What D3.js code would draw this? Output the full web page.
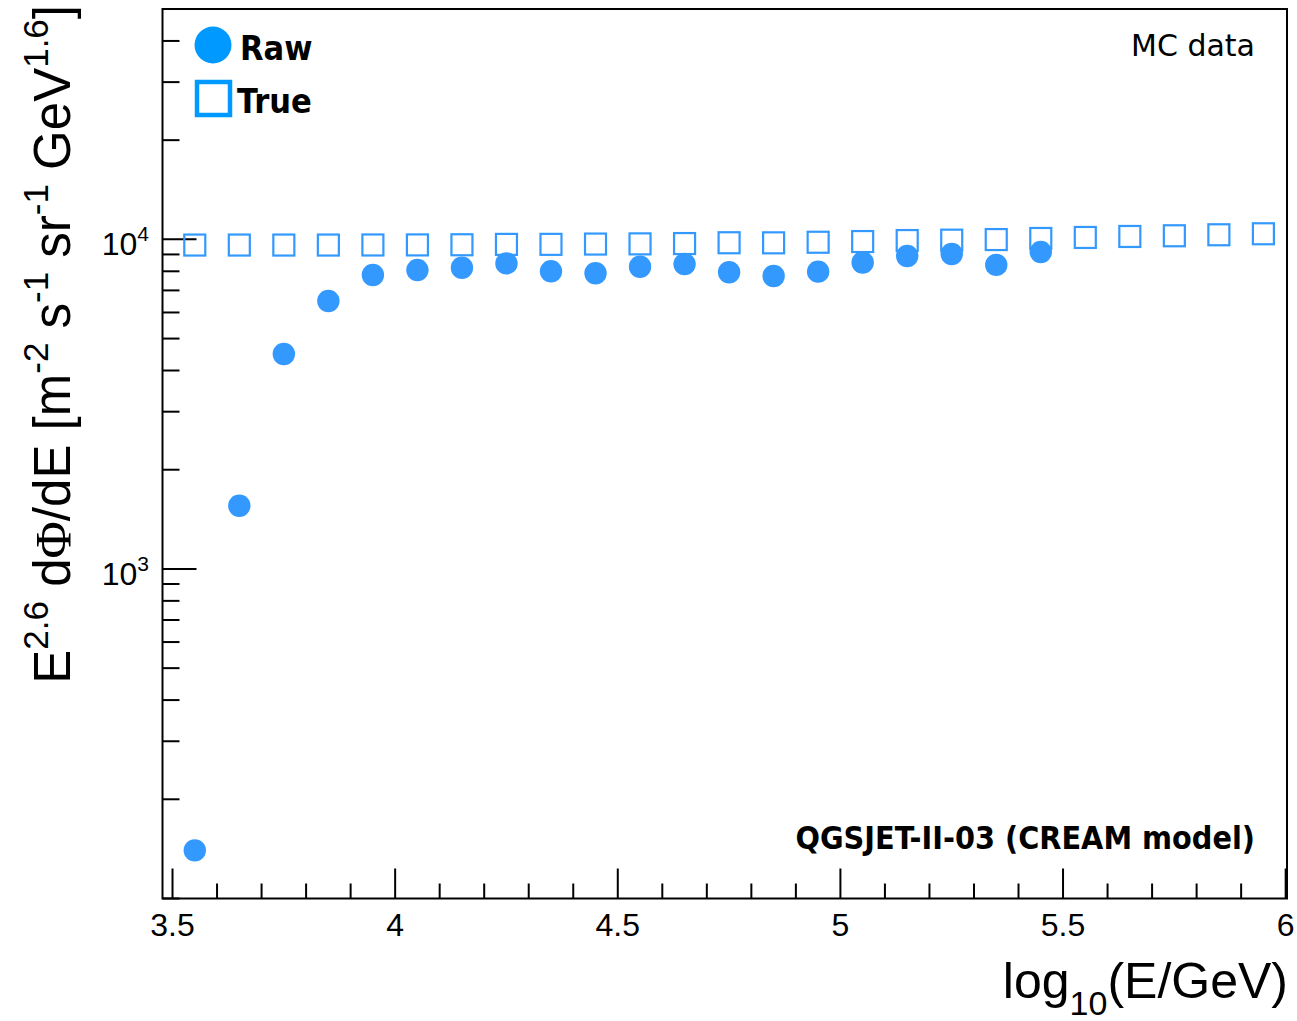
<!DOCTYPE html>
<html>
<head>
<meta charset="utf-8">
<script src="https://cdn.jsdelivr.net/npm/d3@7"></script>
<style>
  body { margin: 0; background: #fff; }
  svg { display: block; }
</style>
</head>
<body>
<div class="canvas"></div>
<script>
// data
const binCentres = [3.55, 3.65, 3.75, 3.85, 3.95, 4.05, 4.15, 4.25, 4.35, 4.45, 4.55, 4.65,
  4.75, 4.85, 4.95, 5.05, 5.15, 5.25, 5.35, 5.45, 5.55, 5.65, 5.75, 5.85, 5.95];
const rawFlux = [140, 1555, 4490, 6500, 7795, 8070, 8200, 8455, 8000, 7890, 8260, 8415,
  7945, 7740, 7980, 8505, 8900, 9025, 8365, 9150];
const trueFlux = [9610, 9610, 9610, 9610, 9615, 9620, 9630, 9655, 9657, 9677, 9690, 9711,
  9766, 9760, 9800, 9848, 9917, 9944, 9986, 10062, 10133, 10204, 10254, 10326, 10398];
const xTickLabels = [3.5, 4, 4.5, 5, 5.5, 6];
const yDecades = [1000, 10000];

const W = 1297, H = 1021;
const frame = { left: 162.5, right: 1287, top: 9, bottom: 898.5 };
const markerColor = "#3399ff";
const legendColor = "#0099ff";

const svg = d3.select(".canvas").append("svg").attr("width", W).attr("height", H);

const x = d3.scaleLinear().domain([3.4775, 6.003]).range([frame.left, frame.right]);
const y = d3.scaleLog().domain([100, 50000]).range([frame.bottom, frame.top]);

// frame
svg.append("rect")
  .attr("x", frame.left).attr("y", frame.top)
  .attr("width", frame.right - frame.left).attr("height", frame.bottom - frame.top)
  .attr("fill", "none").attr("stroke", "#000").attr("stroke-width", 2);

// x axis: major every 0.5, minor every 0.1
const xMinor = d3.range(35, 61).map((d) => d / 10);
svg.append("g").selectAll("line").data(xMinor).join("line")
  .attr("x1", (d) => x(d)).attr("x2", (d) => x(d))
  .attr("y1", frame.bottom)
  .attr("y2", (d) => (Math.round(d * 10) % 5 === 0 ? frame.bottom - 30 : frame.bottom - 15))
  .attr("stroke", "#000").attr("stroke-width", 2);

svg.append("g").selectAll("text").data(xTickLabels).join("text")
  .attr("x", (d) => x(d)).attr("y", 936)
  .attr("text-anchor", "middle")
  .attr("font-family", "Liberation Sans, Arial, sans-serif")
  .attr("font-size", 32)
  .text((d) => d);

// y axis: log ticks
const yMinor = [];
[100, 1000, 10000].forEach((dec) => {
  for (let k = 1; k <= 9; k++) {
    const v = dec * k;
    if (v >= 100 && v <= 50000) yMinor.push(v);
  }
});
svg.append("g").selectAll("line").data(yMinor).join("line")
  .attr("x1", frame.left)
  .attr("x2", (d) => (yDecades.includes(d) ? frame.left + 34 : frame.left + 17))
  .attr("y1", (d) => y(d)).attr("y2", (d) => y(d))
  .attr("stroke", "#000").attr("stroke-width", 2);

const yLab = svg.append("g").selectAll("text").data(yDecades).join("text")
  .attr("x", 149).attr("y", (d) => y(d) + 16)
  .attr("text-anchor", "end")
  .attr("font-family", "Liberation Sans, Arial, sans-serif")
  .attr("font-size", 32);
yLab.append("tspan").text("10");
yLab.append("tspan").attr("font-size", 21).attr("dy", -14).text((d) => Math.log10(d));

// markers: True (open squares) then Raw (filled circles)
const sq = 21;
svg.append("g").selectAll("rect").data(trueFlux).join("rect")
  .attr("x", (d, i) => x(binCentres[i]) - sq / 2)
  .attr("y", (d) => y(d) - sq / 2)
  .attr("width", sq).attr("height", sq)
  .attr("fill", "none").attr("stroke", markerColor).attr("stroke-width", 2.2);

svg.append("g").selectAll("circle").data(rawFlux).join("circle")
  .attr("cx", (d, i) => x(binCentres[i]))
  .attr("cy", (d) => y(d))
  .attr("r", 11.2)
  .attr("fill", markerColor);

// legend
const legend = svg.append("g");
legend.append("circle").attr("cx", 213).attr("cy", 45).attr("r", 18.5).attr("fill", legendColor);
legend.append("rect").attr("x", 197).attr("y", 82).attr("width", 33).attr("height", 33)
  .attr("fill", "none").attr("stroke", legendColor).attr("stroke-width", 4.5);
legend.append("text").attr("x", 240).attr("y", 60)
  .attr("font-family", "DejaVu Sans Condensed, DejaVu Sans, sans-serif").attr("font-weight", "bold")
  .attr("font-size", 34)
  .text("Raw");
legend.append("text").attr("x", 237).attr("y", 113)
  .attr("font-family", "DejaVu Sans Condensed, DejaVu Sans, sans-serif").attr("font-weight", "bold")
  .attr("font-size", 34)
  .text("True");

// annotations
svg.append("text").attr("x", 1255).attr("y", 56)
  .attr("text-anchor", "end")
  .attr("font-family", "DejaVu Sans, sans-serif").attr("font-size", 30)
  .text("MC data");
svg.append("text").attr("x", 1255).attr("y", 849)
  .attr("text-anchor", "end")
  .attr("font-family", "DejaVu Sans Condensed, DejaVu Sans, sans-serif").attr("font-weight", "bold")
  .attr("font-size", 32)
  .text("QGSJET-II-03 (CREAM model)");

// x title
const xt = svg.append("text").attr("x", 1288).attr("y", 998)
  .attr("text-anchor", "end")
  .attr("font-family", "Liberation Sans, Arial, sans-serif").attr("font-size", 50);
xt.append("tspan").text("log");
xt.append("tspan").attr("font-size", 34).attr("dy", 17).text("10");
xt.append("tspan").attr("dy", -17).text("(E/GeV)");

// y title, rotated, aligned to the top
const yt = svg.append("text")
  .attr("transform", "translate(70, 5) rotate(-90)")
  .attr("text-anchor", "end")
  .attr("font-family", "Liberation Sans, Arial, sans-serif").attr("font-size", 51);
const parts = [
  ["E", 0], ["2.6", 1], [" d", 0], ["\u03A6", 2], ["/dE [m", 0], ["-2", 1], [" s", 0], ["-1", 1],
  [" sr", 0], ["-1", 1], [" GeV", 0], ["1.6", 1], ["]", 0]
];
let up = false;
parts.forEach(([t, kind]) => {
  const ts = yt.append("tspan").text(t);
  if (kind === 1) {
    ts.attr("font-size", 35).attr("dy", -22);
    up = true;
  } else {
    if (up) ts.attr("dy", 22);
    up = false;
    if (kind === 2) ts.attr("font-family", "Liberation Serif, Times New Roman, serif");
  }
});
</script>
</body>
</html>
